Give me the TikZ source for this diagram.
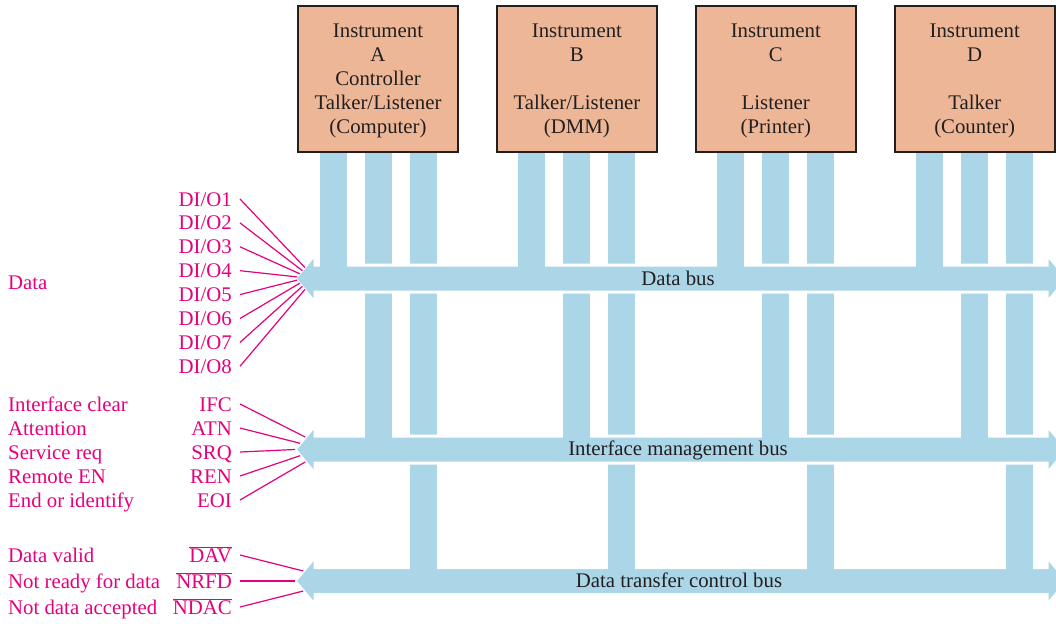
\documentclass[tikz,border=0pt]{standalone}
\usepackage{fontspec}
\setmainfont{Liberation Serif}
\usetikzlibrary{positioning}
\definecolor{bus-blue}{HTML}{ABD6E8}
\definecolor{box-peach}{HTML}{EDB797}
\definecolor{sig-pink}{HTML}{E5007D}
\definecolor{ink}{HTML}{231F20}
\newcommand\figfont{\fontsize{20.8pt}{24pt}\selectfont}

\begin{document}
\begin{tikzpicture}[x=1pt, y=-1pt,
    instr/.style={rectangle, draw=ink, line width=2.4pt, fill=box-peach, minimum width=160pt, minimum height=146pt, inner sep=0pt, align=center, text=ink, font=\figfont},
    stub/.style={draw=bus-blue, line width=27pt},
    busarrow/.style={fill=bus-blue, draw=white, line width=3pt},
    buslabel/.style={anchor=base, text=ink, font=\figfont},
    sig/.style={anchor=base east, inner sep=0pt, text=sig-pink, font=\figfont},
    sigdesc/.style={anchor=base west, inner sep=0pt, text=sig-pink, font=\figfont},
    wire/.style={draw=sig-pink, line width=1.2pt}
]
    \useasboundingbox (0,0) rectangle (1056,623);
    \clip (0,0) rectangle (1056,623);

    % left tips of the three buses
    \coordinate (dbus) at (295,278.5);
    \coordinate (ibus) at (295,449.5);
    \coordinate (tbus) at (295,581);

    \node[instr] (instA) at (378,79) {\rule{0pt}{18pt}Instrument\\A\\Controller\\Talker/Listener\\(Computer)};
    \node[instr, right=36.5pt of instA] (instB) {\rule{0pt}{18pt}Instrument\\B\\[24pt]Talker/Listener\\(DMM)};
    \node[instr, right=36.5pt of instB] (instC) {\rule{0pt}{18pt}Instrument\\C\\[24pt]Listener\\(Printer)};
    \node[instr, right=36.5pt of instC] (instD) {\rule{0pt}{18pt}Instrument\\D\\[24pt]Talker\\(Counter)};

    % stubs down from every instrument
    \foreach \ins in {instA,instB,instC,instD} {
        \draw[stub] ([xshift=-45pt]\ins.south) -- ([xshift=-45pt]\ins.south |- dbus);
        \draw[stub] (\ins.south) -- (\ins.south |- ibus);
        \draw[stub] ([xshift=45pt]\ins.south) -- ([xshift=45pt]\ins.south |- tbus);
    }

    % buses
    \foreach \b in {dbus,ibus,tbus}
        \filldraw[busarrow] (\b) -- ++(20,-24) -- ++(0,10.5) -- ++(732,0) -- ++(0,-10.5) -- ++(20,24)
            -- ++(-20,24) -- ++(0,-10.5) -- ++(-732,0) -- ++(0,10.5) -- cycle;

    % join the stubs to their bus
    \foreach \ins in {instA,instB,instC,instD} {
        \draw[stub] ([xshift=-45pt]\ins.south |- dbus) -- ++(0,-20);
        \draw[stub] (\ins.south |- ibus) -- ++(0,-20);
        \draw[stub] ([xshift=45pt]\ins.south |- tbus) -- ++(0,-20);
    }

    \node[buslabel] (dbtext) at (678,285) {Data bus};
    \node[buslabel] (ibtext) at (678,455) {Interface management bus};
    \node[buslabel] (tbtext) at (679,587) {Data transfer control bus};

    % data lines
    \node[sigdesc] (data) at (8,289) {Data};
    \foreach \i in {1,...,8} {
        \node[sig] (dio\i) at (232,{206+23.9*(\i-1)}) {DI/O\i};
        \draw[wire] ([shift={(8,-7)}]dio\i.base east) -- ([shift={({1+0.83*abs(3.1*(\i-4.5))},{3.1*(\i-4.5)})}]dbus);
    }

    % interface management lines
    \foreach \n/\s/\d [count=\j] in {ifc/IFC/Interface clear, atn/ATN/Attention, srq/SRQ/Service req, ren/REN/Remote EN, eoi/EOI/End or identify} {
        \node[sig] (\n) at (232,{411+24*(\j-1)}) {\s};
        \node[sigdesc] (\n-d) at (8,{411+24*(\j-1)}) {\d};
        \draw[wire] ([shift={(8,-7)}]\n.base east) -- ([shift={({0.83*abs(6.2*(\j-3))},{6.2*(\j-3)})}]ibus);
    }

    % handshake lines
    \foreach \n/\s/\d/\yb [count=\j] in {dav/DAV/Data valid/562, nrfd/NRFD/Not ready for data/588, ndac/NDAC/Not data accepted/614} {
        \node[sig] (\n) at (232,\yb) {$\overline{\mbox{\s}}$};
        \node[sigdesc] (\n-d) at (8,\yb) {\d};
        \draw[wire] ([shift={(8,-7)}]\n.base east) -- ([shift={({0.83*abs(10*(\j-2))},{10*(\j-2)})}]tbus);
    }
\end{tikzpicture}
\end{document}
